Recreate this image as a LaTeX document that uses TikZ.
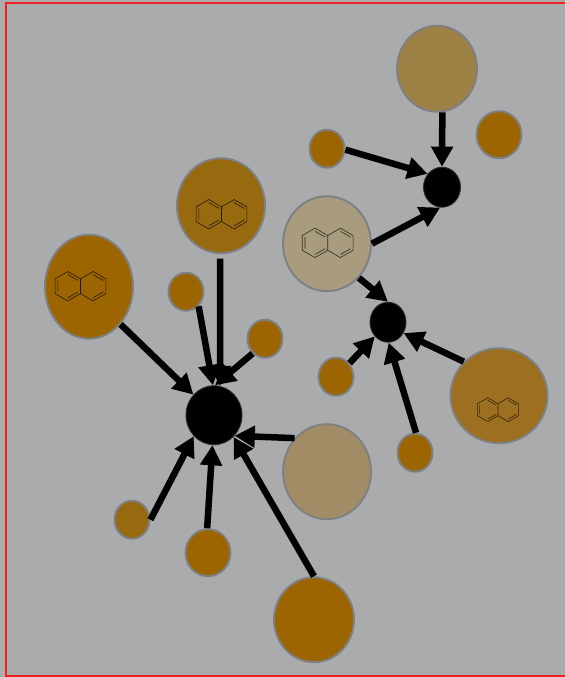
\documentclass[tikz,border=0pt]{standalone}
\usepackage{tikz}
\usetikzlibrary{arrows.meta,shapes.geometric}
\usepackage{xcolor}
\definecolor{paper}{HTML}{AAABAD}
\definecolor{rim}{HTML}{7E8084}
\definecolor{ochre}{HTML}{9C6500}
\definecolor{ochreB}{HTML}{986A10}
\definecolor{ochreC}{HTML}{9C7020}
\definecolor{sandA}{HTML}{9E8145}
\definecolor{sandB}{HTML}{A89B7E}
\definecolor{sandC}{HTML}{A28C65}
\definecolor{frame}{HTML}{EE2020}
\tikzset{
  blob/.style={ellipse,draw=rim,line width=1.1pt,inner sep=0pt},
  hub/.style={ellipse,inner sep=0pt,fill=black,draw=black!75!paper,line width=0.5pt},
  link/.style={line width=3.7pt,-{Triangle[length=11.5pt,width=12pt]}},
  naph/.pic={
    \draw[line width=0.35pt,draw=#1] (-24.2,-7)--(-12.1,-14)--(0,-7)--(12.1,-14)--(24.2,-7)--(24.2,7)--(12.1,14)--(0,7)--(-12.1,14)--(-24.2,7)--cycle (0,-7)--(0,7);
    \draw[line width=0.35pt,draw=#1] (-21.6,-5.5)--(-21.6,5.5) (-12.1,-11)--(-2.4,-5.5) (-2.4,5.5)--(-12.1,11) (12.1,-11)--(21.8,-5.5) (21.8,5.5)--(12.1,11);
  }
}
\begin{document}
\begin{tikzpicture}[x=0.02cm,y=-0.02cm]
  \useasboundingbox (0,-0.7) rectangle (565,676.3);
  \fill[paper] (0,-0.7) rectangle (565,676.3);
  \draw[frame,line width=1.15pt] (566,2)--(5.8,2)--(5.8,675.6)--(566,675.6);
  % upper group
  \node[blob,fill=sandA,minimum width=1.6cm,minimum height=1.72cm] (tantop) at (437,68) {};
  \node[blob,fill=ochre,minimum width=0.9cm,minimum height=0.94cm] (dotcorner) at (499,134) {};
  \node[blob,fill=ochre,minimum width=0.7cm,minimum height=0.76cm] (dotleft) at (327,148) {};
  \node[hub,minimum width=0.74cm,minimum height=0.8cm] (hubtop) at (442,186.5) {};
  \node[blob,fill=sandB,minimum width=1.76cm,minimum height=1.9cm] (tannaph) at (327,243) {};
  \node[hub,minimum width=0.72cm,minimum height=0.8cm] (hubmid) at (388,321.5) {};
  \node[blob,fill=ochreC,minimum width=1.94cm,minimum height=1.9cm] (bigright) at (499,395) {};
  \node[blob,fill=ochre,minimum width=0.7cm,minimum height=0.76cm] (dotmid) at (336,376) {};
  \node[blob,fill=ochre,minimum width=0.7cm,minimum height=0.76cm] (dotlow) at (415,452) {};
  % lower group
  \node[hub,minimum width=1.12cm,minimum height=1.18cm] (hubmain) at (214,414.5) {};
  \node[blob,fill=ochreB,minimum width=1.76cm,minimum height=1.9cm] (bignaph) at (221,205) {};
  \node[blob,fill=ochre,minimum width=1.76cm,minimum height=2.08cm] (bigleft) at (89,286) {};
  \node[blob,fill=ochre,minimum width=0.7cm,minimum height=0.76cm] (dotupper) at (186,291) {};
  \node[blob,fill=ochre,minimum width=0.7cm,minimum height=0.76cm] (dotside) at (265,338) {};
  \node[blob,fill=sandC,minimum width=1.76cm,minimum height=1.9cm] (tanlow) at (327,471) {};
  \node[blob,fill=ochre,minimum width=1.6cm,minimum height=1.7cm] (bigbottom) at (314,619) {};
  \node[blob,fill=ochre,minimum width=0.9cm,minimum height=0.94cm] (dotbottom) at (208,552) {};
  \node[blob,fill=ochreB,minimum width=0.7cm,minimum height=0.76cm] (dotfar) at (132,519) {};
  % rings
  \pic[scale=1.05] at (221.5,213.5) {naph=black!75!ochre};
  \pic[scale=1.05] at (80.5,285.5) {naph=black!75!ochre};
  \pic[scale=1.05] at (327.7,242.2) {naph=black!70!sandB};
  \pic[scale=0.85] at (498,409) {naph=black!65!ochreC};
  % arrows
  \draw[link] (tantop.-83.5) -- (hubtop.north);
  \draw[link] (dotleft.-3) -- (hubtop.137);
  \draw[link] (tannaph.0) -- (hubtop.-95);
  \draw[link] (tannaph.-47.5) -- (hubmid.north);
  \draw[link] (dotmid.45) -- (hubmid.-133);
  \draw[link] (dotlow.87) -- (hubmid.-88);
  \draw[link] (bigright.136) -- (hubmid.-35);
  \draw[link] (bigleft.-50) -- (hubmain.135);
  \draw[link] (dotupper.-49) -- (hubmain.92);
  \draw[link,shorten <=2.5pt] (bignaph.-91) -- (hubmain.78);
  \draw[link] (dotside.-130) -- (hubmain.88);
  \draw[link] (tanlow.134) -- (hubmain.-45);
  \draw[link] (bigbottom.90) -- (hubmain.-48);
  \draw[link] (dotbottom.92) -- (hubmain.-93);
  \draw[link] (dotfar.0) -- (hubmain.-134);
\end{tikzpicture}
\end{document}
